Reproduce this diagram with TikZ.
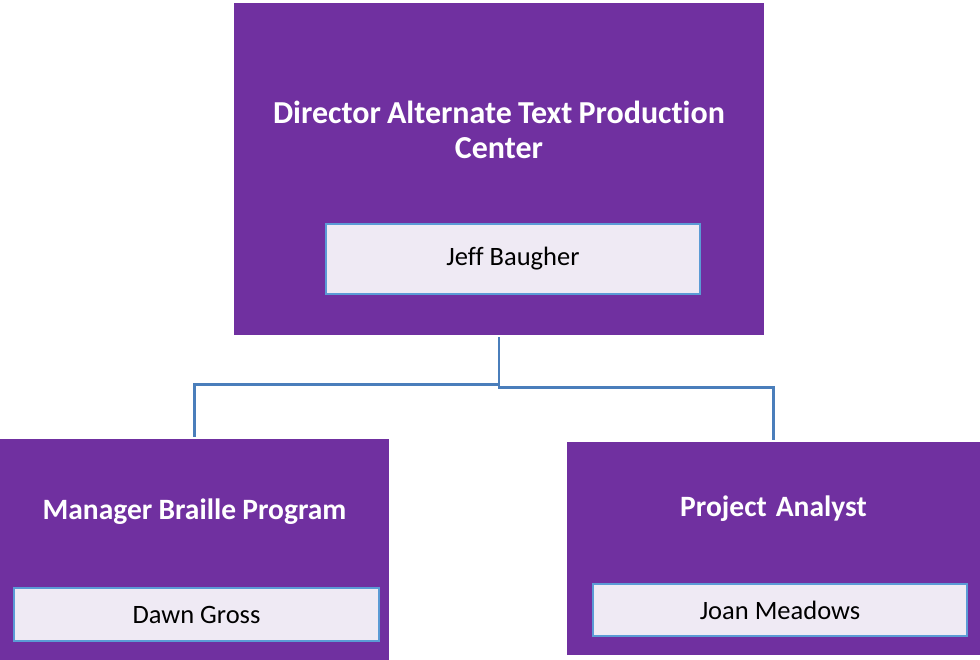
\documentclass[tikz,border=0pt]{standalone}
\usepackage{fontspec}
\setmainfont[Ligatures=NoCommon]{Carlito}
\usetikzlibrary{positioning, calc}

\definecolor{boxpurple}{HTML}{7030A0}
\definecolor{namefill}{HTML}{EFEAF4}
\definecolor{nameline}{HTML}{5B9BD5}
\definecolor{linkblue}{HTML}{4A7EBB}

\newcommand{\tightsp}{\spaceskip=0.16em plus 0.08em\relax}

\begin{document}
\begin{tikzpicture}
    [x=1pt, y=-1pt,
    rolebox/.style={rectangle, fill=boxpurple, inner sep=0pt},
    roletitle/.style={text=white, font=\bfseries\fontsize{29.5}{35}\selectfont, align=center, text width=#1, execute at begin node=\tightsp},
    namebox/.style={rectangle, fill=namefill, draw=nameline, line width=2pt, inner sep=0pt, font=\fontsize{26.5}{30}\selectfont},
    link/.style={draw=linkblue, line width=2.6pt, shorten <=2pt, shorten >=2pt},]

    \useasboundingbox (0,0) rectangle (980,660);

    %Boxes
    \node[rolebox, minimum width=530pt, minimum height=332pt](dir) at (499,169){};
    \node[rolebox, minimum width=389pt, minimum height=221pt](mgr) at (194.5,549.5){};
    \node[rolebox, minimum width=413pt, minimum height=213pt](ana) at (773.5,548.5){};

    %Titles
    \node[roletitle=500pt, font=\bfseries\fontsize{32}{35}\selectfont](dirtitle) at (499,130){Director Alternate Text Production\\Center};
    \node[roletitle=380pt](mgrtitle) at (194.5,512){Manager Braille Program};
    \node[roletitle=400pt](anatitle) at (773.5,509){Project Analyst};

    %Names
    \node[namebox, minimum width=374pt, minimum height=70pt](jeff) at (513,259){Jeff Baugher};
    \node[namebox, minimum width=365pt, minimum height=53pt](dawn) at (196.5,614.5){Dawn Gross};
    \node[namebox, minimum width=374pt, minimum height=52pt](joan) at (780,610){Joan Meadows};

    %Links
    \draw[link] (dir.south) -- ++(0,49) -| (mgr.north);
    \draw[link] (dir.south) -- ++(0,52) -| (ana.north);
\end{tikzpicture}
\end{document}
